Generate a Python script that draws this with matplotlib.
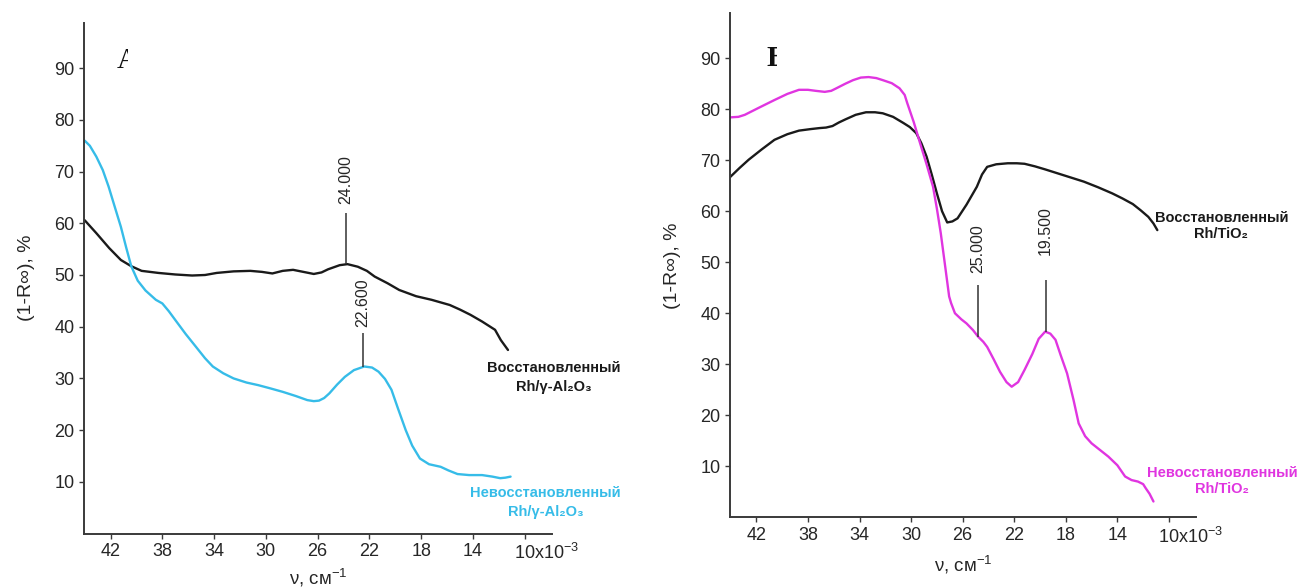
import matplotlib
matplotlib.use("Agg")
import matplotlib.pyplot as plt
from matplotlib.patches import Rectangle
from matplotlib.transforms import ScaledTranslation

plt.rcParams['font.family'] = ['Liberation Sans', 'DejaVu Sans']
plt.rcParams['mathtext.fontset'] = 'custom'
plt.rcParams['mathtext.rm'] = 'Liberation Sans'
plt.rcParams['mathtext.it'] = 'Liberation Sans:italic'

# ---------------- data ----------------
# Panel A : Rh/gamma-Al2O3, reduced (black)
a_red_x = [44.0, 43.1, 42.1, 41.2, 40.4, 39.6, 38.3, 37.0, 35.7, 34.7, 33.8, 32.5, 31.2,
           30.3, 29.5, 28.7, 27.9, 27.1, 26.3, 25.7, 25.2, 24.3, 23.7, 22.9, 22.2, 21.6,
           20.6, 19.7, 18.4, 17.2, 15.8, 15.0, 14.2, 13.3, 12.3, 11.85, 11.3]
a_red_y = [60.6, 58.1, 55.2, 52.9, 51.7, 50.8, 50.4, 50.1, 49.9, 50.0, 50.4, 50.7, 50.8,
           50.6, 50.3, 50.8, 51.0, 50.6, 50.2, 50.5, 51.1, 51.9, 52.1, 51.6, 50.8, 49.7,
           48.4, 47.1, 45.9, 45.2, 44.2, 43.3, 42.3, 41.0, 39.4, 37.4, 35.5]
# Panel A : unreduced (cyan)
a_unr_x = [44.0, 43.6, 43.1, 42.6, 42.15, 41.7, 41.2, 40.8, 40.4, 39.9, 39.3, 38.5, 38.0,
           37.5, 37.0, 36.2, 35.4, 34.7, 34.1, 33.3, 32.5, 31.5, 30.6, 29.7, 28.7, 27.7,
           26.8, 26.3, 25.9, 25.5, 25.1, 24.5, 23.9, 23.2, 22.4, 21.8, 21.3, 20.8, 20.3,
           19.8, 19.2, 18.7, 18.1, 17.4, 16.5, 15.9, 15.2, 14.3, 13.3, 12.5, 11.9, 11.5, 11.1]
a_unr_y = [76.0, 75.0, 72.9, 70.3, 67.1, 63.4, 59.3, 55.4, 51.7, 48.9, 47.0, 45.2, 44.5,
           43.0, 41.3, 38.6, 36.1, 33.9, 32.3, 31.0, 30.0, 29.2, 28.7, 28.1, 27.4, 26.6,
           25.8, 25.6, 25.7, 26.2, 27.1, 28.8, 30.3, 31.6, 32.3, 32.1, 31.3, 29.9, 27.8,
           24.2, 20.0, 17.0, 14.5, 13.4, 12.9, 12.2, 11.5, 11.3, 11.3, 11.0, 10.7, 10.8, 11.0]

# Panel B : Rh/TiO2, reduced (black)
b_red_x = [44.04, 43.3, 42.6, 41.6, 40.6, 39.6, 38.7, 37.8, 37.1, 36.6, 36.1, 35.6, 35.1,
           34.3, 33.5, 32.8, 32.2, 31.4, 30.6, 30.1, 29.6, 29.2, 28.8, 28.4, 28.0, 27.6,
           27.2, 26.8, 26.4, 25.7, 24.9, 24.5, 24.1, 23.4, 22.5, 21.8, 21.2, 20.4, 19.6,
           18.1, 16.6, 15.5, 14.4, 13.6, 12.8, 12.2, 11.6, 11.2, 10.9]
b_red_y = [66.7, 68.5, 70.1, 72.1, 74.0, 75.1, 75.8, 76.1, 76.3, 76.4, 76.7, 77.4, 78.0,
           78.9, 79.4, 79.4, 79.2, 78.5, 77.3, 76.5, 75.3, 73.3, 70.7, 67.2, 63.5, 60.0,
           57.8, 58.0, 58.6, 61.3, 64.8, 67.2, 68.7, 69.2, 69.4, 69.4, 69.3, 68.8, 68.2,
           67.0, 65.8, 64.7, 63.5, 62.5, 61.4, 60.2, 58.9, 57.6, 56.3]
# Panel B : unreduced (magenta)
b_unr_x = [44.04, 43.4, 42.9, 41.8, 40.6, 39.6, 38.7, 38.0, 37.4, 36.7, 36.2, 35.8, 35.1,
           34.5, 33.9, 33.3, 32.7, 32.2, 31.5, 30.9, 30.5, 30.3, 29.8, 29.3, 28.8, 28.3,
           28.0, 27.7, 27.4, 27.05, 26.9, 26.6, 26.1, 25.7, 25.2, 24.8, 24.4, 24.1, 23.6,
           23.1, 22.6, 22.2, 21.7, 21.2, 20.6, 20.1, 19.6, 19.2, 18.8, 18.4, 17.9, 17.4,
           17.0, 16.5, 16.0, 15.4, 14.7, 14.0, 13.4, 12.9, 12.4, 12.0, 11.8, 11.5, 11.2]
b_unr_y = [78.4, 78.5, 78.9, 80.3, 81.8, 83.0, 83.8, 83.8, 83.6, 83.4, 83.6, 84.1, 85.0,
           85.7, 86.2, 86.3, 86.1, 85.7, 85.1, 84.1, 82.8, 81.2, 77.5, 73.3, 69.2, 64.8,
           60.5, 55.7, 50.0, 43.3, 42.0, 40.0, 38.8, 38.0, 36.7, 35.4, 34.4, 33.4, 31.0,
           28.5, 26.5, 25.6, 26.5, 28.9, 32.0, 35.0, 36.4, 36.0, 34.8, 31.8, 28.2, 23.0,
           18.4, 15.9, 14.5, 13.3, 11.9, 10.2, 8.0, 7.3, 7.0, 6.5, 5.7, 4.6, 3.1]

# peak markers: position, line bottom, line top, label centre, label text
a_peak_x = [23.85, 22.5]
a_peak_lo = [52.2, 32.3]
a_peak_hi = [61.9, 38.7]
a_peak_ly = [68.4, 44.7]
a_peak_txt = ["24.000", "22.600"]

b_peak_x = [24.82, 19.56]
b_peak_lo = [35.4, 36.4]
b_peak_hi = [45.5, 46.5]
b_peak_ly = [52.7, 56.3]
b_peak_txt = ["25.000", "19.500"]

xticks = [42, 38, 34, 30, 26, 22, 18, 14, 10]
xtick_labels = ["42", "38", "34", "30", "26", "22", "18", "14", "10x10$^{-3}$"]
yticks = [10, 20, 30, 40, 50, 60, 70, 80, 90]
ytick_labels = ["10", "20", "30", "40", "50", "60", "70", "80", "90"]

BLACK = "#1a1a1a"
CYAN = "#36bce8"
MAGENTA = "#e035e0"
SPINE = "#3a3a3a"
TXT = "#262626"

W, H = 1297, 588
fig = plt.figure(figsize=(W / 100, H / 100), dpi=100)

axA = fig.add_axes([84 / W, (H - 533.5) / H, 468 / W, 510.8 / H])
axB = fig.add_axes([730 / W, (H - 517.3) / H, 466 / W, 504 / H])


def style(ax, pad):
    ax.set_xlim(44.05, 7.9)
    ax.set_ylim(0, 98.8)
    for s in ["top", "right"]:
        ax.spines[s].set_visible(False)
    for s in ["left", "bottom"]:
        ax.spines[s].set_color(SPINE)
        ax.spines[s].set_linewidth(1.4)
    ax.set_xticks(xticks)
    ax.set_xticklabels(xtick_labels)
    ax.set_yticks(yticks)
    ax.set_yticklabels(ytick_labels)
    ax.tick_params(axis="both", direction="out", length=3.5, width=1.0, color=SPINE,
                   labelsize=13, labelcolor=TXT, pad=3.5)
    lab = ax.get_xticklabels()[-1]
    lab.set_horizontalalignment("left")
    lab.set_transform(lab.get_transform() + ScaledTranslation(-11 / 100, 0, fig.dpi_scale_trans))
    ax.set_ylabel("(1-R∞), %", fontsize=14, color=TXT, labelpad=14)
    ax.set_xlabel("ν, см$^{-1}$", fontsize=13.5, color=TXT, labelpad=pad)


style(axA, 2.5)
style(axB, 5)

# curves
kw = dict(lw=1.7, solid_joinstyle="round", solid_capstyle="round")
axA.plot(a_red_x, a_red_y, color=BLACK, **kw)
axA.plot(a_unr_x, a_unr_y, color=CYAN, **kw)
axB.plot(b_red_x, b_red_y, color=BLACK, **kw)
axB.plot(b_unr_x, b_unr_y, color=MAGENTA, **kw)

# peak markers
for ax, px, lo, hi, ly, tx in [(axA, a_peak_x, a_peak_lo, a_peak_hi, a_peak_ly, a_peak_txt),
                               (axB, b_peak_x, b_peak_lo, b_peak_hi, b_peak_ly, b_peak_txt)]:
    for x, l, h, y, t in zip(px, lo, hi, ly, tx):
        ax.vlines(x, l, h, color="#333333", lw=1.1)
        ax.text(x, y, t, rotation=90, ha="center", va="center", fontsize=11.5, color=TXT)

# series labels
lab_kw = dict(ha="center", va="center", fontsize=10.5, fontweight="bold", clip_on=False,
              family=["Liberation Sans", "DejaVu Sans"])
axA.text(7.77, 31.95, "Восстановленный", color=BLACK, **lab_kw)
axA.text(7.77, 28.4, "Rh/γ-Al₂O₃", color=BLACK, **lab_kw)
axA.text(8.4, 7.8, "Невосстановленный", color=CYAN, **lab_kw)
axA.text(8.4, 4.2, "Rh/γ-Al₂O₃", color=CYAN, **lab_kw)
axB.text(5.93, 58.6, "Восстановленный", color=BLACK, **lab_kw)
axB.text(5.93, 55.5, "Rh/TiO₂", color=BLACK, **lab_kw)
axB.text(5.85, 8.6, "Невосстановленный", color=MAGENTA, **lab_kw)
axB.text(5.85, 5.6, "Rh/TiO₂", color=MAGENTA, **lab_kw)

# partially hidden panel letters
tA = fig.text(117 / W, (H - 61) / H, "А", fontsize=21, family="Liberation Serif",
              ha="left", va="center", color="#111111")
tA.set_clip_path(Rectangle((117 / W, (H - 76) / H), 11 / W, 30 / H, transform=fig.transFigure))
tB = fig.text(766 / W, (H - 58) / H, "Б", fontsize=21, family="Liberation Serif",
              fontweight="bold", ha="left", va="center", color="#111111")
tB.set_clip_path(Rectangle((764 / W, (H - 74) / H), 13 / W, 30 / H, transform=fig.transFigure))

fig.savefig("out.png", dpi=100)
